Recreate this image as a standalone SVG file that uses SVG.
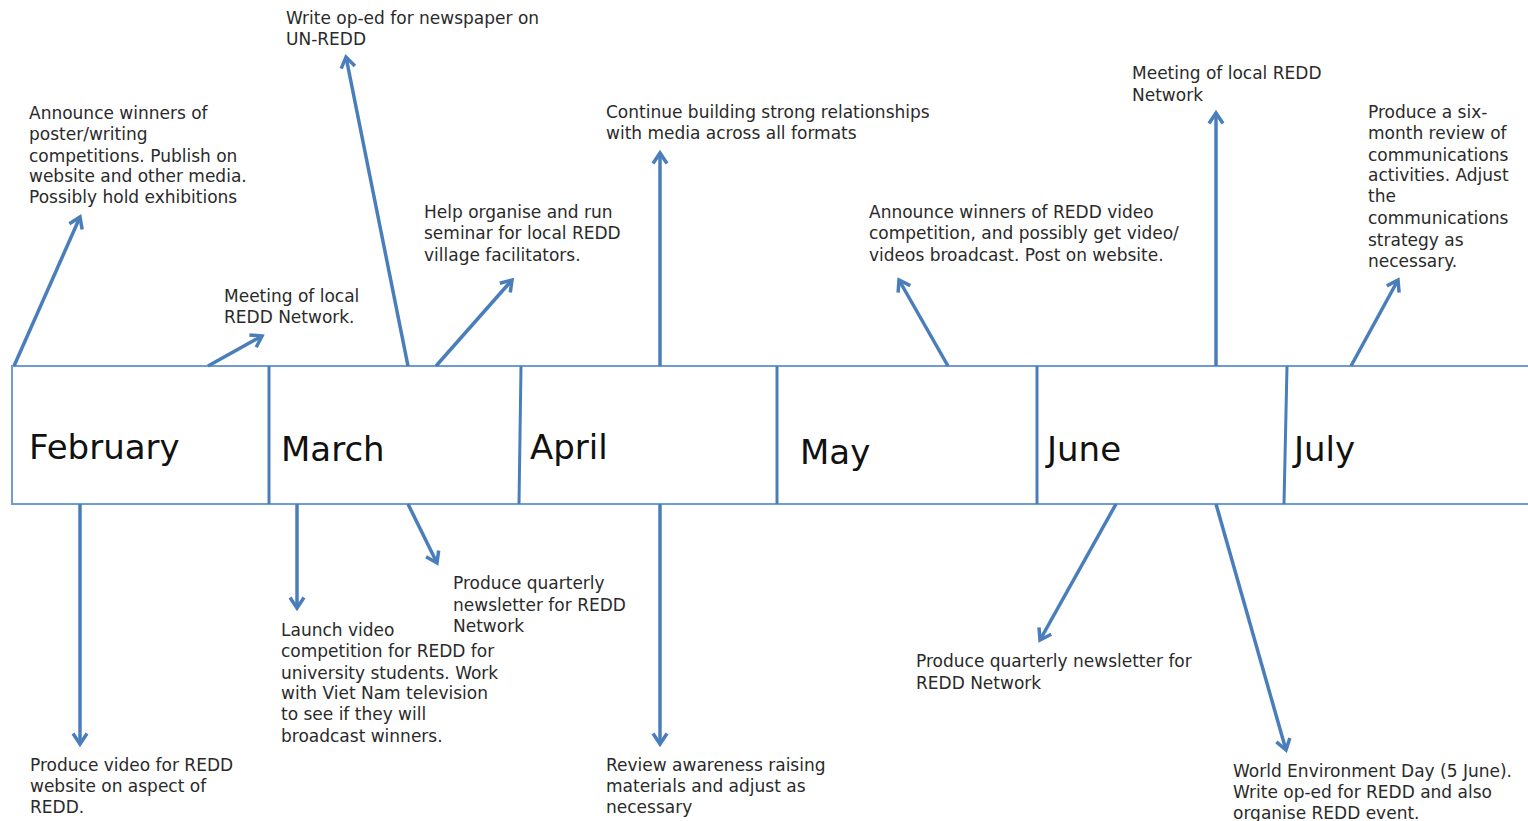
<svg xmlns="http://www.w3.org/2000/svg" width="1528" height="821" viewBox="0 0 1528 821">
<defs>
<marker id="ah" markerUnits="userSpaceOnUse" markerWidth="18" markerHeight="18" refX="12" refY="8" orient="auto" overflow="visible">
<path d="M1.5,1 L12,8 L1.5,15" fill="none" stroke="#4a7ebb" stroke-width="3.5" stroke-linejoin="miter"/>
</marker>
<style>
.t{font-family:"DejaVu Sans","Open Sans",sans-serif;font-size:17px;fill:#2a2a2a}
.m{font-family:"DejaVu Sans","Open Sans",sans-serif;font-size:34px;fill:#111}
.strip{fill:#fff;stroke:#6f9bd3;stroke-width:2}
.div{stroke:#4a7ebb;stroke-width:3;fill:none}
.c line{stroke:#4a7ebb;stroke-width:3.5;marker-end:url(#ah)}
</style>
</defs>
<rect width="1528" height="821" fill="#fff"/>
<g id="timeline">
<rect class="strip" x="12" y="366" width="1530" height="138"/>
<line class="div" x1="269" y1="366" x2="269" y2="504"/>
<line class="div" x1="521" y1="366" x2="519" y2="504"/>
<line class="div" x1="777" y1="366" x2="777" y2="504"/>
<line class="div" x1="1037" y1="366" x2="1037" y2="504"/>
<line class="div" x1="1287" y1="366" x2="1284" y2="504"/>
</g>
<g id="month-february"><text class="m" x="29" y="459">February</text></g>
<g id="month-march"><text class="m" x="281" y="461">March</text></g>
<g id="month-april"><text class="m" x="530" y="459">April</text></g>
<g id="month-may"><text class="m" x="800" y="464">May</text></g>
<g id="month-june"><text class="m" x="1047" y="461">June</text></g>
<g id="month-july"><text class="m" x="1294" y="461">July</text></g>
<g class="c" id="connectors">
<line x1="14" y1="366" x2="80" y2="217"/>
<line x1="208" y1="366" x2="262" y2="336"/>
<line x1="408" y1="366" x2="346" y2="57"/>
<line x1="436" y1="366" x2="512" y2="280"/>
<line x1="660" y1="366" x2="660" y2="153"/>
<line x1="948" y1="366" x2="899" y2="280"/>
<line x1="1216" y1="366" x2="1216" y2="113"/>
<line x1="1351" y1="366" x2="1398" y2="280"/>
<line x1="80" y1="504" x2="80" y2="744"/>
<line x1="297" y1="504" x2="297" y2="608"/>
<line x1="408" y1="504" x2="437" y2="563"/>
<line x1="660" y1="504" x2="660" y2="744"/>
<line x1="1116" y1="504" x2="1040" y2="640"/>
<line x1="1216" y1="504" x2="1286" y2="750"/>
</g>
<g id="n-oped-unredd"><text class="t" x="286" y="24">Write op-ed for newspaper on</text><text class="t" x="286" y="45">UN-REDD</text></g>
<g id="n-announce-poster"><text class="t" x="29" y="119">Announce winners of</text><text class="t" x="29" y="140">poster/writing</text><text class="t" x="29" y="162">competitions. Publish on</text><text class="t" x="29" y="182">website and other media.</text><text class="t" x="29" y="203">Possibly hold exhibitions</text></g>
<g id="n-meeting-feb"><text class="t" x="224" y="302">Meeting of local</text><text class="t" x="224" y="323">REDD Network.</text></g>
<g id="n-seminar"><text class="t" x="424" y="218">Help organise and run</text><text class="t" x="424" y="239">seminar for local REDD</text><text class="t" x="424" y="261">village facilitators.</text></g>
<g id="n-media"><text class="t" x="606" y="118">Continue building strong relationships</text><text class="t" x="606" y="139">with media across all formats</text></g>
<g id="n-announce-video"><text class="t" x="869" y="218">Announce winners of REDD video</text><text class="t" x="869" y="239">competition, and possibly get video/</text><text class="t" x="869" y="261">videos broadcast. Post on website.</text></g>
<g id="n-meeting-june"><text class="t" x="1132" y="79">Meeting of local REDD</text><text class="t" x="1132" y="101">Network</text></g>
<g id="n-review-six"><text class="t" x="1368" y="118">Produce a six-</text><text class="t" x="1368" y="139">month review of</text><text class="t" x="1368" y="161">communications</text><text class="t" x="1368" y="181">activities. Adjust</text><text class="t" x="1368" y="202">the</text><text class="t" x="1368" y="224">communications</text><text class="t" x="1368" y="246">strategy as</text><text class="t" x="1368" y="267">necessary.</text></g>
<g id="n-video-website"><text class="t" x="30" y="771">Produce video for REDD</text><text class="t" x="30" y="792">website on aspect of</text><text class="t" x="30" y="813">REDD.</text></g>
<g id="n-launch-video"><text class="t" x="281" y="636">Launch video</text><text class="t" x="281" y="657">competition for REDD for</text><text class="t" x="281" y="679">university students. Work</text><text class="t" x="281" y="699">with Viet Nam television</text><text class="t" x="281" y="720">to see if they will</text><text class="t" x="281" y="742">broadcast winners.</text></g>
<g id="n-newsletter-mar"><text class="t" x="453" y="589">Produce quarterly</text><text class="t" x="453" y="611">newsletter for REDD</text><text class="t" x="453" y="632">Network</text></g>
<g id="n-review-materials"><text class="t" x="606" y="771">Review awareness raising</text><text class="t" x="606" y="792">materials and adjust as</text><text class="t" x="606" y="813">necessary</text></g>
<g id="n-newsletter-june"><text class="t" x="916" y="667">Produce quarterly newsletter for</text><text class="t" x="916" y="689">REDD Network</text></g>
<g id="n-env-day"><text class="t" x="1233" y="777">World Environment Day (5 June).</text><text class="t" x="1233" y="798">Write op-ed for REDD and also</text><text class="t" x="1233" y="819">organise REDD event.</text></g>
</svg>
